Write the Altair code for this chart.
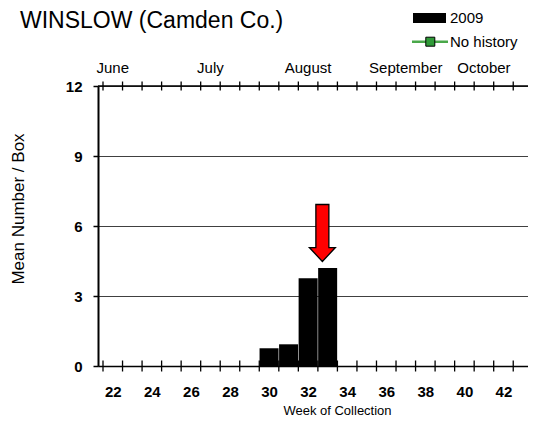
import altair as alt
import pandas as pd

# ---- data ----
weeks = [30, 31, 32, 33]
values_2009 = [0.76, 0.93, 3.76, 4.2]
all_weeks = list(range(22, 44))
label_weeks = [22, 24, 26, 28, 30, 32, 34, 36, 38, 40, 42]
months = ["June", "July", "August", "September", "October"]
month_weeks = [22, 27, 32, 37, 41]
y_ticks = [0, 3, 6, 9, 12]
arrow_week = [32.73]
arrow_level = [5.7]
title_text = ["WINSLOW (Camden Co.)"]
y_title = ["Mean Number / Box"]
x_title = ["Week of Collection"]
legend_bar_label = ["2009"]
legend_line_label = ["No history"]

FONT = "Liberation Sans"
ARROW = "M -0.228 -1 L 0.228 -1 L 0.228 0.51 L 0.456 0.51 L 0 1 L -0.456 0.51 L -0.228 0.51 Z"

bars_df = pd.DataFrame({"week": weeks, "value": values_2009})
edges = [w - 0.5 for w in all_weeks]
bottom_ticks_df = pd.DataFrame({"edge": edges, "lvl": [y_ticks[0]] * len(edges)})
top_ticks_df = pd.DataFrame({"edge": edges, "lvl": [y_ticks[-1]] * len(edges)})
months_df = pd.DataFrame({"month": months, "week": month_weeks})
arrow_df = pd.DataFrame({"week": arrow_week, "value": arrow_level})
top_df = pd.DataFrame({"lvl": [y_ticks[-1]]})

xscale = alt.Scale(domain=[21.5, 43.0], nice=False, zero=False)
yscale = alt.Scale(domain=[0, 12], nice=False)

bars = alt.Chart(bars_df).mark_bar(color="black", width=19).encode(
    x=alt.X(
        "week:Q",
        scale=xscale,
        axis=alt.Axis(
            values=label_weeks, tickSize=0, labelPadding=18, labelFont=FONT,
            labelFontSize=15, labelFontWeight="bold", labelColor="black",
            domainColor="black", domainWidth=1.5, grid=False, title=None,
            labelFlush=False, labelOverlap=False,
        ),
    ),
    y=alt.Y(
        "value:Q",
        scale=yscale,
        axis=alt.Axis(
            values=y_ticks, tickSize=5, tickColor="black", tickWidth=1.5,
            labelPadding=11, labelFont=FONT, labelFontSize=15,
            labelFontWeight="bold", labelColor="black", grid=True,
            gridColor="#404040", gridWidth=1.2, domainColor="black",
            domainWidth=2, title=None, labelFlush=False,
        ),
    ),
)

top_line = alt.Chart(top_df).mark_rule(color="black", strokeWidth=1.5).encode(
    y=alt.Y("lvl:Q", scale=yscale)
)

bottom_ticks = alt.Chart(bottom_ticks_df).mark_tick(
    orient="vertical", size=11, thickness=1.3, color="black", opacity=1
).encode(x=alt.X("edge:Q", scale=xscale), y=alt.Y("lvl:Q", scale=yscale))

top_ticks = alt.Chart(top_ticks_df).mark_tick(
    orient="vertical", size=9, thickness=1.3, color="black", opacity=1
).encode(x=alt.X("edge:Q", scale=xscale), y=alt.Y("lvl:Q", scale=yscale))

month_text = alt.Chart(months_df).mark_text(
    font=FONT, fontSize=15, color="black", baseline="middle", align="center"
).encode(x=alt.X("week:Q", scale=xscale), y=alt.value(-18), text="month:N")

arrow = alt.Chart(arrow_df).mark_point(
    shape=ARROW, size=3249, filled=True, fill="#ff0000", stroke="black",
    strokeWidth=1.3, opacity=1,
).encode(x=alt.X("week:Q", scale=xscale), y=alt.Y("value:Q", scale=yscale))

title = alt.Chart(pd.DataFrame({"t": title_text})).mark_text(
    font=FONT, fontSize=23, color="black", align="left", baseline="alphabetic"
).encode(x=alt.value(-78), y=alt.value(-57.7), text="t:N")

ytitle = alt.Chart(pd.DataFrame({"t": y_title})).mark_text(
    font=FONT, fontSize=17, color="black", align="center", baseline="middle", angle=270
).encode(x=alt.value(-79), y=alt.value(123), text="t:N")

xtitle = alt.Chart(pd.DataFrame({"t": x_title})).mark_text(
    font=FONT, fontSize=13, color="black", align="center", baseline="alphabetic"
).encode(x=alt.value(239.5), y=alt.value(328.5), text="t:N")

leg_rect = alt.Chart(pd.DataFrame({"t": legend_bar_label})).mark_rect(color="black").encode(
    x=alt.value(315), x2=alt.value(348), y=alt.value(-73), y2=alt.value(-63)
)
leg_rect_text = alt.Chart(pd.DataFrame({"t": legend_bar_label})).mark_text(
    font=FONT, fontSize=15, color="black", align="left", baseline="middle"
).encode(x=alt.value(352), y=alt.value(-67.7), text="t:N")

leg_line = alt.Chart(pd.DataFrame({"t": legend_line_label})).mark_rule(
    color="#4aa84a", strokeWidth=2.5
).encode(x=alt.value(314), x2=alt.value(350), y=alt.value(-44.3))
leg_sq = alt.Chart(pd.DataFrame({"t": legend_line_label})).mark_point(
    shape="square", size=81, filled=True, fill="#2f9a38", stroke="black",
    strokeWidth=1, opacity=1,
).encode(x=alt.value(332.3), y=alt.value(-44.3))
leg_line_text = alt.Chart(pd.DataFrame({"t": legend_line_label})).mark_text(
    font=FONT, fontSize=15, color="black", align="left", baseline="middle"
).encode(x=alt.value(352), y=alt.value(-44), text="t:N")

chart = alt.layer(
    bars, top_line, bottom_ticks, top_ticks, month_text, arrow,
    title, ytitle, xtitle, leg_rect, leg_rect_text, leg_line, leg_sq, leg_line_text,
).properties(
    width=430,
    height=280,
    padding={"left": 90, "top": 78, "right": 0, "bottom": 52},
    autosize=alt.AutoSizeParams(type="none"),
    background="white",
).configure_view(strokeWidth=0)

chart.save("out.html", embed_options={"renderer": "svg", "actions": False})
